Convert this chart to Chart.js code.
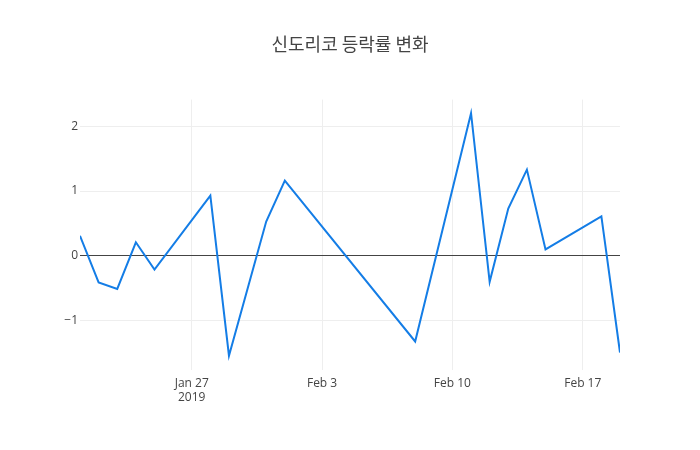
<!DOCTYPE html>
<html>
<head>
<meta charset="utf-8">
<script src="https://cdn.jsdelivr.net/npm/chart.js@4/dist/chart.umd.min.js"></script>
<style>
  html, body { margin: 0; padding: 0; background: #fff; }
  #wrap { width: 700px; height: 450px; }
</style>
</head>
<body>
<div id="wrap"><canvas id="chart" width="700" height="450"></canvas></div>
<script>
// 날짜 (거래일)
const dates = ['2019-01-21', '2019-01-22', '2019-01-23', '2019-01-24', '2019-01-25',
  '2019-01-28', '2019-01-29', '2019-01-31', '2019-02-01', '2019-02-08',
  '2019-02-11', '2019-02-12', '2019-02-13', '2019-02-14', '2019-02-15',
  '2019-02-18', '2019-02-19'];
// 등락률 (%)
const changes = [0.31, -0.41, -0.51, 0.21, -0.21, 0.93, -1.54, 0.53, 1.16, -1.32,
  2.20, -0.40, 0.73, 1.33, 0.10, 0.61, -1.49];
// x축 눈금
const xTickDates = ['2019-01-27', '2019-02-03', '2019-02-10', '2019-02-17'];
const xTickLabels = [['Jan 27', '2019'], 'Feb 3', 'Feb 10', 'Feb 17'];
const yTicks = [-1, 0, 1, 2];

const DAY = 86400000;
const start = Date.UTC(2019, 0, 21);
const dayIndex = d => (Date.parse(d + 'T00:00:00Z') - start) / DAY;

const points = dates.map((d, i) => ({ x: dayIndex(d), y: changes[i] }));
const xTickPos = xTickDates.map(dayIndex);

const ctx = document.getElementById('chart').getContext('2d');
const chart = new Chart(ctx, {
  type: 'line',
  data: {
    datasets: [{
      data: points,
      borderColor: 'rgb(20,125,230)',
      borderWidth: 2,
      pointRadius: 0,
      tension: 0,
      fill: false
    }]
  },
  options: {
    responsive: false,
    animation: false,
    layout: { padding: 0 },
    plugins: {
      legend: { display: false },
      tooltip: { enabled: false },
      title: {
        display: true,
        text: '신도리코 등락률 변화',
        color: '#444',
        font: { family: "'Noto Sans CJK KR', 'Open Sans', sans-serif", size: 18, weight: 'normal' },
        padding: { top: 33, bottom: 45 }
      }
    },
    scales: {
      x: {
        type: 'linear',
        min: dayIndex(dates[0]),
        max: dayIndex(dates[dates.length - 1]),
        afterBuildTicks: axis => { axis.ticks = xTickPos.map(v => ({ value: v })); },
        afterFit: axis => { axis.height = 80; },
        border: { display: false },
        grid: { color: '#eee', drawTicks: false },
        ticks: {
          color: '#444',
          padding: 6,
          maxRotation: 0,
          font: { family: "'Open Sans', sans-serif", size: 12 },
          callback: v => xTickLabels[xTickPos.indexOf(v)]
        }
      },
      y: {
        min: -1.76,
        max: 2.41,
        afterBuildTicks: axis => { axis.ticks = yTicks.map(v => ({ value: v })); },
        afterFit: axis => { axis.width = 80; },
        border: { display: false },
        grid: {
          drawTicks: false,
          color: c => c.tick && c.tick.value === 0 ? '#444' : '#eee',
          lineWidth: 1
        },
        ticks: {
          color: '#444',
          padding: 2,
          font: { family: "'Open Sans', sans-serif", size: 12 },
          callback: v => (v < 0 ? '\u2212' + Math.abs(v) : String(v))
        }
      },
      // 오른쪽 여백용 빈 축
      yRight: {
        position: 'right',
        afterFit: axis => { axis.width = 80; },
        border: { display: false },
        grid: { display: false },
        ticks: { display: false }
      }
    }
  }
});
</script>
</body>
</html>
